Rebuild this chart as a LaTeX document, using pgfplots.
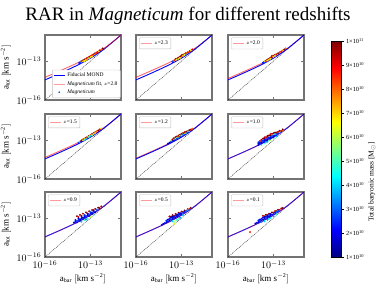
\documentclass[border=0pt]{standalone}
\usepackage{fontspec}
\setmainfont{Liberation Serif}
\usepackage{pgfplots}
\usepackage{pgfplotstable}
\pgfplotsset{compat=1.18}

\pgfplotstableread{
x y
-16 -14.454
-15.5 -14.199
-15 -13.941
-14.5 -13.676
-14 -13.399
-13.5 -13.104
-13 -12.777
-12.5 -12.405
-12 -11.975
-11.5 -11.497
-11 -11.000
}\mond
\pgfplotstableread{
x y
-16 -14.257
-15.5 -14.004
-15 -13.749
-14.5 -13.489
-14 -13.222
-13.5 -12.943
-13 -12.642
-12.5 -12.307
-12 -11.924
-11.5 -11.483
-11 -10.999
}\fitA
\pgfplotstableread{
x y
-16 -14.345
-15.5 -14.091
-15 -13.834
-14.5 -13.572
-14 -13.302
-13.5 -13.016
-13 -12.705
-12.5 -12.355
-12 -11.951
-11.5 -11.492
-11 -10.999
}\fitB
\pgfplotstableread{
x y
-16 -14.40
-15.5 -14.15
-15 -13.89
-14.5 -13.63
-14 -13.355
-13.5 -13.065
-13 -12.75
-12.5 -12.385
-12 -11.965
-11.5 -11.495
-11 -11.0
}\fitC

% scatter data: x y mass(1e10 Msun)
\pgfplotstableread{
x y m
-13.75 -13.15 2
-13.7 -13.12 2.5
-13.65 -13.05 3
-13.6 -13.02 8
-13.55 -13.00 9
-13.5 -12.95 10
-13.5 -13.03 7
-13.45 -12.95 8.5
-13.4 -12.90 9.5
-13.4 -12.98 6.5
-13.35 -12.86 10
-13.3 -12.84 8
-13.3 -12.92 7
-13.25 -12.80 9
-13.2 -12.76 10
-13.2 -12.85 7.5
-13.15 -12.74 8.5
-13.1 -12.70 9.5
-13.1 -12.78 6
-13.05 -12.66 10
-13.0 -12.63 8
-13.0 -12.71 7
-12.95 -12.60 9
-12.9 -12.56 10
-12.9 -12.63 6.5
-12.85 -12.52 8.5
-12.8 -12.48 9.5
-12.75 -12.45 7.5
-12.7 -12.41 10
-12.65 -12.39 8
-12.6 -12.35 9
-12.5 -12.28 10
-12.45 -12.25 7
-12.4 -12.18 9.5
-12.3 -12.10 8
-12.2 -12.03 10
}\sA
\pgfplotstableread{
x y m
-13.6 -13.06 2
-13.55 -13.02 3
-13.5 -12.97 8
-13.45 -12.93 9
-13.4 -12.92 7
-13.4 -12.86 10
-13.35 -12.88 8
-13.3 -12.82 9.5
-13.3 -12.88 6
-13.25 -12.80 10
-13.2 -12.74 9
-13.2 -12.82 7
-13.15 -12.72 10
-13.1 -12.66 9.5
-13.1 -12.75 6.5
-13.05 -12.64 10
-13.0 -12.62 8
-13.0 -12.56 10
-12.95 -12.58 9
-12.9 -12.52 10
-12.9 -12.60 7
-12.85 -12.50 8.5
-12.8 -12.46 9.5
-12.8 -12.52 6
-12.75 -12.43 8
-12.7 -12.39 10
-12.65 -12.37 7.5
-12.6 -12.33 9
-12.5 -12.26 8
-12.45 -12.22 10
-12.4 -12.18 7
-12.3 -12.10 9
}\sB
\pgfplotstableread{
x y m
-13.7 -13.14 2
-13.65 -13.10 2.5
-13.6 -13.05 3
-13.55 -13.02 7
-13.5 -12.98 9
-13.45 -12.94 8
-13.4 -12.90 10
-13.4 -12.96 6
-13.35 -12.87 9
-13.3 -12.83 10
-13.3 -12.90 7
-13.25 -12.80 8.5
-13.2 -12.74 10
-13.2 -12.82 6.5
-13.15 -12.72 9
-13.1 -12.68 10
-13.1 -12.60 9.5
-13.05 -12.64 8
-13.0 -12.60 10
-13.0 -12.68 7
-12.95 -12.56 9
-12.9 -12.54 10
-12.9 -12.60 6
-12.85 -12.50 8
-12.8 -12.47 9.5
-12.75 -12.44 7
-12.7 -12.40 10
-12.6 -12.33 8.5
-12.5 -12.26 9
-12.4 -12.18 7.5
-12.3 -12.10 10
-12.2 -12.03 8
}\sC
\pgfplotstableread{
x y m
-13.8 -13.22 2
-13.75 -13.18 3
-13.7 -13.12 5
-13.65 -13.08 9
-13.6 -13.05 4
-13.6 -13.11 2
-13.55 -13.00 10
-13.5 -13.02 6
-13.5 -12.96 8
-13.45 -12.95 3
-13.4 -12.90 9
-13.4 -12.97 5
-13.35 -12.88 7
-13.3 -12.82 10
-13.3 -12.90 4
-13.25 -12.80 8
-13.2 -12.75 9
-13.2 -12.83 3
-13.15 -12.74 6
-13.1 -12.68 10
-13.1 -12.76 5
-13.05 -12.66 7
-13.0 -12.62 9
-13.0 -12.70 4
-12.95 -12.58 8
-12.9 -12.55 10
-12.9 -12.62 6
-12.8 -12.47 9
-12.8 -12.54 5
-12.7 -12.40 10
-12.7 -12.46 7
-12.6 -12.33 8
-12.5 -12.26 10
-12.4 -12.18 9
-12.3 -12.10 7
}\sD
\pgfplotstableread{
x y m
-13.9 -13.28 1.5
-13.8 -13.20 2
-13.7 -13.14 2
-13.7 -13.05 6
-13.6 -13.08 2.5
-13.6 -12.96 9.5
-13.5 -13.02 2
-13.5 -12.92 5
-13.5 -12.85 10
-13.4 -12.95 3
-13.4 -12.86 6
-13.4 -12.78 9.5
-13.3 -12.88 2.5
-13.3 -12.80 5.5
-13.3 -12.72 10
-13.2 -12.82 3
-13.2 -12.73 7
-13.2 -12.66 9.5
-13.1 -12.75 2
-13.1 -12.66 5
-13.1 -12.58 10
-13.0 -12.68 3
-13.0 -12.60 6.5
-13.0 -12.52 9.5
-12.9 -12.60 2.5
-12.9 -12.52 5
-12.9 -12.46 10
-12.8 -12.53 3
-12.8 -12.45 7
-12.8 -12.40 9.5
-12.7 -12.45 4
-12.7 -12.36 10
-12.6 -12.38 3
-12.6 -12.30 8
-12.5 -12.30 5
-12.5 -12.24 10
-12.4 -12.20 9.5
-12.3 -12.12 8
}\sE
\pgfplotstableread{
x y m
-14.0 -13.38 2
-14.0 -13.28 1.5
-14.0 -13.18 2.5
-13.8 -13.38 4.5
-13.8 -13.26 2
-13.8 -13.16 1.5
-13.8 -13.06 3
-13.8 -12.98 9.5
-13.6 -13.26 5
-13.6 -13.14 2.5
-13.6 -13.04 2
-13.6 -12.94 2
-13.6 -12.86 10
-13.6 -12.80 9.5
-13.4 -13.14 4
-13.4 -13.02 1.5
-13.4 -12.92 2
-13.4 -12.82 3
-13.4 -12.74 9.5
-13.4 -12.68 10
-13.2 -13.01 6
-13.2 -12.89 2
-13.2 -12.79 1.5
-13.2 -12.69 2.5
-13.2 -12.61 10
-13.2 -12.55 9.5
-13.0 -12.88 5
-13.0 -12.76 2
-13.0 -12.66 2
-13.0 -12.56 7
-13.0 -12.48 10
-12.8 -12.71 4
-12.8 -12.61 2.5
-12.8 -12.51 3
-12.8 -12.43 9.5
-12.6 -12.46 3
-12.6 -12.36 6
-12.6 -12.29 10
-12.4 -12.27 8
-12.4 -12.18 10
-13.9 -13.29 2
-13.9 -13.17 1.5
-13.9 -13.08 9
-13.7 -13.15 2
-13.7 -13.05 2.5
-13.7 -12.90 10
-13.5 -13.15 3.5
-13.5 -13.03 1.5
-13.5 -12.93 2
-13.5 -12.78 9.5
-13.3 -13.02 5
-13.3 -12.90 2
-13.3 -12.80 2.5
-13.3 -12.65 10
-13.1 -12.77 2
-13.1 -12.67 3
-13.1 -12.52 9.5
-12.9 -12.63 2
-12.9 -12.53 4
-12.9 -12.43 10
-12.7 -12.48 2.5
-12.7 -12.37 9.5
-12.5 -12.31 9.5
}\sF
\pgfplotstableread{
x y m
-13.9 -12.86 9.5
-13.7 -12.76 10
-13.5 -12.67 9.5
-13.3 -12.57 10
-13.1 -12.48 9.5
-12.9 -12.39 10
-12.7 -12.30 9.5
-12.5 -12.21 10
-12.3 -12.11 9.5
-13.8 -12.93 9
-13.6 -12.84 10
-13.4 -12.76 9.5
-13.2 -12.67 10
-13.0 -12.58 9
-12.8 -12.48 10
-12.6 -12.38 9.5
-12.4 -12.25 10
-14.0 -13.15 2
-13.8 -13.03 1.5
-13.6 -12.91 2
-13.4 -12.79 2.5
-13.2 -12.66 2
-13.0 -12.53 3
-12.8 -12.40 2
-14.1 -13.35 1.5
-14.0 -13.28 2
-13.8 -13.16 2.5
-13.6 -13.04 1.5
-13.4 -12.92 2
-13.2 -12.79 1.5
-13.0 -12.66 2
-12.8 -12.51 2.5
-12.6 -12.36 3
-13.9 -13.34 2
-13.7 -13.22 1.5
-13.5 -13.10 2
-13.3 -12.97 2.5
-13.1 -12.85 2
-12.9 -12.70 1.5
-12.7 -12.55 2
-13.9 -13.22 2.5
-13.7 -13.10 2
-13.5 -12.98 1.5
-13.3 -12.86 2
-13.1 -12.74 2.5
-12.9 -12.60 2
-13.6 -13.30 4
-13.4 -13.17 5
-13.2 -13.05 4.5
-13.0 -12.92 6
-12.8 -12.76 5
-13.3 -13.12 3.5
}\sG
\pgfplotstableread{
x y m
-13.8 -12.88 9.5
-13.6 -12.78 10
-13.4 -12.69 9.5
-13.2 -12.60 10
-13.0 -12.51 9.5
-12.8 -12.42 10
-12.6 -12.32 9.5
-12.4 -12.22 10
-13.7 -12.90 10
-13.5 -12.82 9
-13.3 -12.73 10
-13.1 -12.64 9.5
-12.9 -12.54 10
-12.7 -12.44 9.5
-12.5 -12.32 9
-14.3 -13.52 2
-14.2 -13.45 1.5
-14.1 -13.38 2
-14.0 -13.30 1.5
-14.0 -13.20 2.5
-13.9 -13.25 2
-13.9 -13.12 2
-13.8 -13.18 1.5
-13.8 -13.05 2
-13.7 -13.12 2.5
-13.7 -12.98 2
-13.6 -13.06 2
-13.6 -12.92 1.5
-13.5 -13.00 1.5
-13.5 -12.88 2
-13.4 -12.95 2
-13.4 -12.82 2.5
-13.3 -12.88 2
-13.3 -12.78 1.5
-13.2 -12.82 2
-13.2 -12.70 2.5
-13.1 -12.74 1.5
-13.1 -12.64 2
-13.0 -12.68 2
-12.9 -12.60 2.5
-12.8 -12.52 2
-12.7 -12.47 3
-12.6 -12.38 3.5
-13.6 -13.25 4
-13.5 -13.30 5.5
-13.4 -13.22 6.5
-13.3 -13.15 4.5
-13.2 -13.05 5
-13.5 -13.45 6.5
-13.1 -12.98 3.5
-12.9 -12.78 4
}\sH
\pgfplotstableread{
x y m
-13.7 -12.83 9.5
-13.5 -12.75 10
-13.3 -12.66 9.5
-13.1 -12.57 10
-12.9 -12.47 9.5
-12.7 -12.37 10
-12.5 -12.26 9.5
-13.6 -12.87 10
-13.4 -12.77 9
-13.2 -12.68 10
-13.0 -12.59 9.5
-12.8 -12.48 10
-12.6 -12.37 9
-12.4 -12.23 10
-14.2 -13.42 2
-14.1 -13.36 1.5
-14.0 -13.30 2
-14.0 -13.18 2.5
-13.9 -13.24 1.5
-13.9 -13.12 2
-13.8 -13.18 2
-13.8 -13.05 2.5
-13.7 -13.12 1.5
-13.7 -12.98 2
-13.6 -13.05 2
-13.6 -12.94 1.5
-13.5 -13.00 2.5
-13.5 -12.88 2
-13.4 -12.94 2
-13.4 -12.84 1.5
-13.3 -12.88 2
-13.3 -12.76 2.5
-13.2 -12.82 1.5
-13.2 -12.72 2
-13.1 -12.75 2
-13.0 -12.68 2.5
-12.9 -12.60 2
-12.8 -12.54 3
-12.7 -12.46 2.5
-13.8 -13.32 3.5
-13.6 -13.25 4
-13.4 -13.15 3.5
-13.3 -13.08 4.5
-13.2 -13.00 4
-13.0 -12.86 3.5
-12.8 -12.72 5
-14.55 -14.08 8.5
}\sI

\pgfplotsset{
  panel/.style={
    scale only axis, width=76pt, height=65pt,
    xmin=-16, xmax=-11, ymin=-16, ymax=-11,
    xtick={-16,-13}, ytick={-16,-13},
    xticklabels={,}, yticklabels={,},
    axis line style={draw=black!55, line width=1.1pt},
    major tick style={draw=black!55, line width=0.6pt},
    major tick length=3pt, tick align=inside,
    colormap/jet, point meta min=1, point meta max=10,
    legend style={font=\fontsize{5.5}{6.5}\selectfont, draw=black!25, rounded corners=1pt,
      inner sep=1pt, row sep=-1pt, legend cell align=left},
    anchor=south west,
  },
  leftcol/.style={yticklabels={$10^{-16}$,$10^{-13}$},
    ylabel={$\mathrm{a_{tot}}\ [\mathrm{km\ s^{-2}}]$},
    ylabel style={font=\fontsize{9}{10}\selectfont, yshift=-1pt}},
  botrow/.style={xticklabels={$10^{-16}$,$10^{-13}$},
    xlabel={$\mathrm{a_{bar}}\ [\mathrm{km\ s^{-2}}]$},
    xlabel style={font=\fontsize{9}{10}\selectfont, yshift=2pt}},
  zleg/.style={legend style={at={(0.04,0.96)}, anchor=north west}},
  dots/.style={scatter, only marks, mark=*, mark size=0.75pt, scatter src=explicit,
    scatter/use mapped color={draw=mapped color, fill=mapped color}},
  mondl/.style={blue, line width=0.9pt, smooth,
    legend image code/.code={\draw[blue, line width=1pt] (0pt,0pt) -- (11pt,0pt);}},
  fitl/.style={red, opacity=0.6, line width=0.9pt, smooth,
    legend image code/.code={\draw[red!65, line width=1pt] (0pt,0pt) -- (11pt,0pt);}},
  onel/.style={black, line width=0.3pt, dash pattern=on 1pt off 0.8pt, forget plot},
}

\begin{document}
\begin{tikzpicture}
\useasboundingbox (0,0) rectangle (384pt,287pt);

% Row 1
\begin{axis}[panel, leftcol, at={(45pt,187pt)},
  legend style={at={(0.995,0.03)}, anchor=south east}]
\addplot[onel] coordinates {(-16,-16) (-11,-11)};
\addplot[mondl] table {\mond};
\addlegendentry{Fiducial MOND}
\addplot[fitl] table {\fitA};
\addlegendentry{\textit{Magneticum} fit, $z$=2.8}
\addplot[dots, legend image code/.code={\fill[blue!70!cyan] (5.5pt,0pt) circle (0.6pt);}] table[meta=m] {\sA};
\addlegendentry{\textit{Magneticum}}
\end{axis}

\begin{axis}[panel, zleg, at={(136pt,187pt)}]
\addplot[onel] coordinates {(-16,-16) (-11,-11)};
\addplot[fitl] table {\fitA};
\addlegendentry{$z$=2.3}
\addplot[mondl, forget plot] table {\mond};
\addplot[dots, forget plot] table[meta=m] {\sB};
\end{axis}

\begin{axis}[panel, zleg, at={(228pt,187pt)}]
\addplot[onel] coordinates {(-16,-16) (-11,-11)};
\addplot[fitl] table {\fitB};
\addlegendentry{$z$=2.0}
\addplot[mondl, forget plot] table {\mond};
\addplot[dots, forget plot] table[meta=m] {\sC};
\end{axis}

% Row 2
\begin{axis}[panel, leftcol, zleg, at={(45pt,108pt)}]
\addplot[onel] coordinates {(-16,-16) (-11,-11)};
\addplot[fitl] table {\fitB};
\addlegendentry{$z$=1.5}
\addplot[mondl, forget plot] table {\mond};
\addplot[dots, forget plot] table[meta=m] {\sD};
\end{axis}

\begin{axis}[panel, zleg, at={(136pt,108pt)}]
\addplot[onel] coordinates {(-16,-16) (-11,-11)};
\addplot[fitl] table {\fitC};
\addlegendentry{$z$=1.2}
\addplot[mondl, forget plot] table {\mond};
\addplot[dots, forget plot] table[meta=m] {\sE};
\end{axis}

\begin{axis}[panel, zleg, at={(228pt,108pt)}]
\addplot[onel] coordinates {(-16,-16) (-11,-11)};
\addplot[fitl] table {\mond};
\addlegendentry{$z$=1.0}
\addplot[mondl, forget plot, opacity=0.8] table {\mond};
\addplot[dots, forget plot] table[meta=m] {\sF};
\end{axis}

% Row 3
\begin{axis}[panel, leftcol, botrow, zleg, at={(45pt,30pt)}]
\addplot[onel] coordinates {(-16,-16) (-11,-11)};
\addplot[fitl] table {\mond};
\addlegendentry{$z$=0.9}
\addplot[mondl, forget plot, opacity=0.8] table {\mond};
\addplot[dots, forget plot] table[meta=m] {\sG};
\end{axis}

\begin{axis}[panel, botrow, zleg, at={(136pt,30pt)}]
\addplot[onel] coordinates {(-16,-16) (-11,-11)};
\addplot[fitl] table {\mond};
\addlegendentry{$z$=0.5}
\addplot[mondl, forget plot, opacity=0.8] table {\mond};
\addplot[dots, forget plot] table[meta=m] {\sH};
\end{axis}

\begin{axis}[panel, botrow, zleg, at={(228pt,30pt)},
  colorbar,
  colorbar style={at={(parent axis.south east)}, anchor=south west, xshift=19pt,
    width=10pt, height=216pt,
    ytick={1,2,3,4,5,6,7,8,9,10},
    yticklabels={1\texttimes10\textsuperscript{10},2\texttimes10\textsuperscript{10},
      3\texttimes10\textsuperscript{10},4\texttimes10\textsuperscript{10},
      5\texttimes10\textsuperscript{10},6\texttimes10\textsuperscript{10},
      7\texttimes10\textsuperscript{10},8\texttimes10\textsuperscript{10},
      9\texttimes10\textsuperscript{10},1\texttimes10\textsuperscript{11}},
    yticklabel style={font=\fontsize{6.3}{7}\selectfont, xshift=-1pt},
    axis line style={draw=black, line width=0.5pt},
    major tick length=2pt, tick align=outside, ytick pos=right,
    major tick style={draw=black, line width=0.4pt}}]
\addplot[onel] coordinates {(-16,-16) (-11,-11)};
\addplot[fitl] table {\mond};
\addlegendentry{$z$=0.1}
\addplot[mondl, forget plot, opacity=0.8] table {\mond};
\addplot[dots, forget plot] table[meta=m] {\sI};
\end{axis}

\node[font=\fontsize{19}{22}\selectfont] at (188pt,271pt) {RAR in \textit{Magneticum} for different redshifts};
\node[rotate=90, font=\fontsize{7.5}{9}\selectfont] at (372pt,105pt) {Total baryonic mass [M$_\odot$]};
\end{tikzpicture}
\end{document}
